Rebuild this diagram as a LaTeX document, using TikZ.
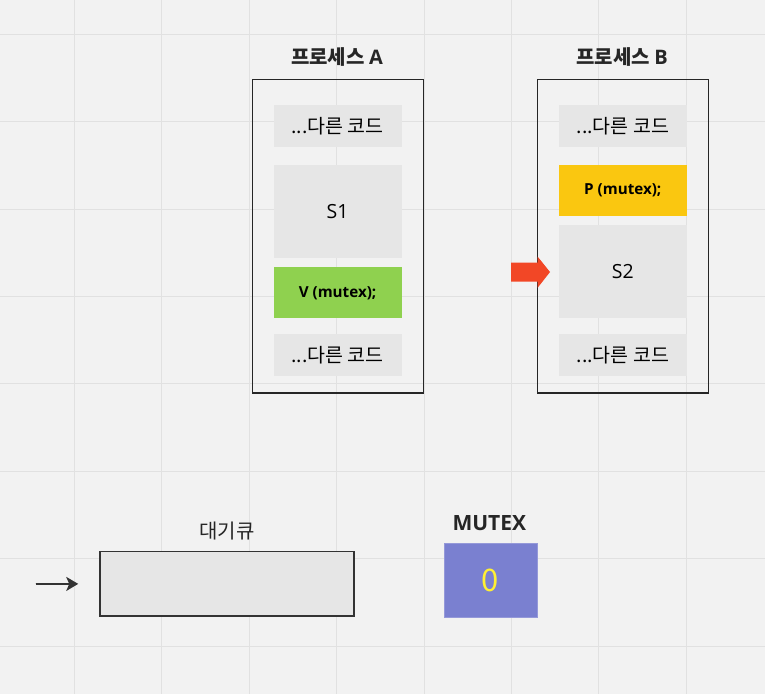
\documentclass[tikz,border=0pt]{standalone}
\usepackage{fontspec}
\setmainfont{Noto Sans CJK KR}
\newfontfamily\latinfont{Open Sans}
\usepackage{xcolor}
\usepackage{tikz}
\usetikzlibrary{arrows.meta, positioning, calc}
\definecolor{bgcol}{HTML}{F2F2F2}
\definecolor{gridcol}{HTML}{E1E1E1}
\definecolor{codecol}{HTML}{E6E6E6}
\definecolor{vgreen}{HTML}{8FD14F}
\definecolor{pyellow}{HTML}{FAC710}
\definecolor{arrowred}{HTML}{F24726}
\definecolor{mutexcol}{HTML}{7A80D0}
\definecolor{zeroyellow}{HTML}{FFF033}

\begin{document}
\begin{tikzpicture}[x=1pt, y=-1pt,
  codebox/.style={fill=codecol, minimum width=128pt, minimum height=41.7pt, inner sep=0pt, font=\fontsize{19.5}{21}\selectfont},
  opbox/.style={minimum width=128pt, minimum height=51pt, inner sep=0pt, font=\latinfont\bfseries\fontsize{15.2}{17}\selectfont},
  procbox/.style={draw=black!85, line width=1.5pt, minimum width=171pt, minimum height=313.7pt, inner sep=0pt},
  title/.style={font=\bfseries\fontsize{20}{22}\selectfont, text=black!85}]

% ---------------- Background grid ----------------
\fill[bgcol] (0,0) rectangle (765,694);
\useasboundingbox (0,0) rectangle (765,694);
\foreach \gx in {0,...,7} \draw[gridcol, line width=1pt] (74.5+87.4*\gx,0) -- (74.5+87.4*\gx,694);
\foreach \gy in {0,...,7} \draw[gridcol, line width=1pt] (0,34.3+87.4*\gy) -- (765,34.3+87.4*\gy);

% ---------------- Process A ----------------
\node[title] (tA) at (337,57) {프로세스 {\latinfont\bfseries A}};
\node[procbox] (pA) at (337.8,236.2) {};
\node[codebox] (a1) at (337.6,125.9) {...다른 코드};
\node[codebox, minimum height=92.7pt, font=\latinfont\fontsize{19.5}{21}\selectfont] (s1) at (337.6,211.4) {S1};
\node[opbox, fill=vgreen] (vA) at (337.6,292.8) {V (mutex);};
\node[codebox] (a4) at (337.6,354.9) {...다른 코드};

% ---------------- Process B ----------------
\node[title] (tB) at (622,57) {프로세스 {\latinfont\bfseries B}};
\node[procbox] (pB) at (623,236.2) {};
\node[codebox] (b1) at (622.8,125.9) {...다른 코드};
\node[opbox, fill=pyellow, minimum height=50.7pt] (pP) at (622.8,190.7) {P (mutex);};
\node[codebox, minimum height=92.7pt, font=\latinfont\fontsize{19.5}{21}\selectfont] (s2) at (622.8,271.7) {S2};
\node[codebox] (b4) at (622.8,354.9) {...다른 코드};
% current position
\fill[arrowred] (511,262.7) -- (537.7,262.7) -- (537.7,256.7) -- (550,272)
  -- (537.7,287.7) -- (537.7,281.7) -- (511,281.7) -- cycle;

% ---------------- Wait queue and mutex ----------------
\node[font=\fontsize{20}{22}\selectfont, text=black!85] (ql) at (227,530.7) {대기큐};
\node[draw=black!80, line width=1.5pt, fill=codecol, minimum width=254pt, minimum height=64.3pt, inner sep=0pt] (queue) at (227,583.8) {};
\coordinate (qin) at (36,584);
\draw[black!80, line width=1.8pt, -{Stealth[length=12pt, width=14pt, inset=3pt]}, shorten >=21pt] (qin) -- (queue.west);
\node[title, font=\latinfont\bfseries\fontsize{21}{23}\selectfont] (ml) at (489.3,522.7) {MUTEX};
\node[fill=mutexcol, draw=mutexcol!80!white, minimum width=93pt, minimum height=73.7pt, inner sep=0pt,
  text=zeroyellow, font=\fontsize{31}{32}\selectfont] (mutex) at (490.2,580.2) {0};
\end{tikzpicture}
\end{document}
